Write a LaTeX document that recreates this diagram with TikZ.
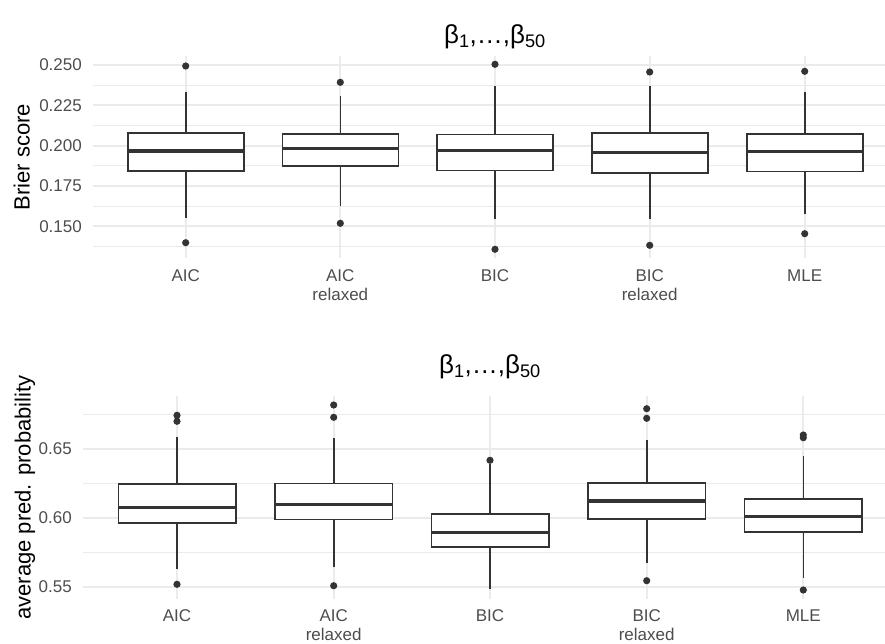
\documentclass[tikz,border=0pt]{standalone}
\usepackage{fontspec}
\setmainfont{Liberation Sans}
\definecolor{gridc}{HTML}{EBEBEB}
\definecolor{boxc}{HTML}{333333}
\definecolor{tickc}{HTML}{4D4D4D}
\begin{document}
\begin{tikzpicture}[x=1pt,y=-1pt,
  gmaj/.style={draw=gridc,line width=1.8pt},
  gmin/.style={draw=gridc,line width=0.9pt},
  bx/.style={draw=boxc,fill=white,line width=1.6pt},
  whisk/.style={draw=boxc,line width=1.6pt},
  med/.style={draw=boxc,line width=3.4pt},
  outl/.style={fill=boxc},
  ticklab/.style={font=\fontsize{17}{19}\selectfont,text=tickc,inner sep=0pt},
  xlab/.style={ticklab,anchor=north,align=center},
  axlab/.style={font=\fontsize{22}{24}\selectfont,inner sep=0pt,rotate=90},
  ttl/.style={font=\fontsize{26}{30}\selectfont,inner sep=0pt,anchor=base}]
\useasboundingbox (0,0) rectangle (885,643);

\path[gmin] (93,85.2) -- (885,85.2) (93,125.5) -- (885,125.5) (93,165.8) -- (885,165.8) (93,206.2) -- (885,206.2) (93,246.5) -- (885,246.5);
\path[gmaj] (93,65) -- (885,65) (93,105.3) -- (885,105.3) (93,145.7) -- (885,145.7) (93,186) -- (885,186) (93,226.3) -- (885,226.3);
\path[gmaj] (185.7,56) -- (185.7,258) (340.3,56) -- (340.3,258) (495,56) -- (495,258) (649.7,56) -- (649.7,258) (804.7,56) -- (804.7,258);

\path[whisk] (185.7,92.3) -- (185.7,217.7);
\path[bx] (127.7,133) rectangle (243.7,170.7);
\path[med] (127.7,151) -- (243.7,151);
\path[outl] (185.7,66) circle (3.6) (185.7,242.7) circle (3.6);
\path[whisk] (340.3,96.3) -- (340.3,205.7);
\path[bx] (282.3,133.7) rectangle (398.3,165.7);
\path[med] (282.3,148.7) -- (398.3,148.7);
\path[outl] (340.3,82.3) circle (3.6) (340.3,223.3) circle (3.6);
\path[whisk] (495,86.3) -- (495,219);
\path[bx] (437,134.3) rectangle (553,170.3);
\path[med] (437,150.3) -- (553,150.3);
\path[outl] (495,64.3) circle (3.6) (495,249.3) circle (3.6);
\path[whisk] (649.7,86.3) -- (649.7,218.7);
\path[bx] (591.7,133) rectangle (707.7,172.7);
\path[med] (591.7,152.3) -- (707.7,152.3);
\path[outl] (649.7,72) circle (3.6) (649.7,245.3) circle (3.6);
\path[whisk] (804.7,91.7) -- (804.7,213.7);
\path[bx] (746.7,133.7) rectangle (862.7,171.3);
\path[med] (746.7,151.7) -- (862.7,151.7);
\path[outl] (804.7,71.3) circle (3.6) (804.7,233.7) circle (3.6);

\node[ticklab,anchor=east] (ta250) at (82,65) {0.250};
\node[ticklab,anchor=east] (ta225) at (82,105.3) {0.225};
\node[ticklab,anchor=east] (ta200) at (82,145.7) {0.200};
\node[ticklab,anchor=east] (ta175) at (82,186) {0.175};
\node[ticklab,anchor=east] (ta150) at (82,226.3) {0.150};
\node[xlab] (xa1) at (185.7,269.6) {AIC};
\node[xlab] (xa2) at (340.3,269.6) {AIC\\relaxed};
\node[xlab] (xa3) at (495,269.6) {BIC};
\node[xlab] (xa4) at (649.7,269.6) {BIC\\relaxed};
\node[xlab] (xa5) at (804.7,269.6) {MLE};
\node[axlab] (ya) at (21.7,157) {Brier score};
\node[ttl] (ttla) at (495,43.5) {β\textsubscript{1},…,β\textsubscript{50}};

\path[gmin] (83,414.5) -- (885,414.5) (83,483.5) -- (885,483.5) (83,552.5) -- (885,552.5);
\path[gmaj] (83,449) -- (885,449) (83,518) -- (885,518) (83,587) -- (885,587);
\path[gmaj] (177,396) -- (177,599) (333.7,396) -- (333.7,599) (490,396) -- (490,599) (646.7,396) -- (646.7,599) (803.3,396) -- (803.3,599);

\path[whisk] (177,436.7) -- (177,569);
\path[bx] (118.3,484) rectangle (235.7,522.7);
\path[med] (118.3,507.7) -- (235.7,507.7);
\path[outl] (177,415.3) circle (3.6) (177,421.3) circle (3.6) (177,584.3) circle (3.6);
\path[whisk] (333.7,438.3) -- (333.7,567);
\path[bx] (275,483.3) rectangle (392.4,519.3);
\path[med] (275,504.3) -- (392.4,504.3);
\path[outl] (333.7,405) circle (3.6) (333.7,417.3) circle (3.6) (333.7,585.7) circle (3.6);
\path[whisk] (490,464) -- (490,589.3);
\path[bx] (431.3,514) rectangle (548.7,546.7);
\path[med] (431.3,532.7) -- (548.7,532.7);
\path[outl] (490,460.3) circle (3.6);
\path[whisk] (646.7,440.3) -- (646.7,563);
\path[bx] (588,483) rectangle (705.4,519);
\path[med] (588,501) -- (705.4,501);
\path[outl] (646.7,408.7) circle (3.6) (646.7,418.3) circle (3.6) (646.7,580.7) circle (3.6);
\path[whisk] (803.3,456) -- (803.3,578.3);
\path[bx] (744.6,499) rectangle (862,532);
\path[med] (744.6,516.7) -- (862,516.7);
\path[outl] (803.3,435) circle (3.6) (803.3,437.7) circle (3.6) (803.3,590) circle (3.6);

\node[ticklab,anchor=east] (tb65) at (72,449) {0.65};
\node[ticklab,anchor=east] (tb60) at (72,518) {0.60};
\node[ticklab,anchor=east] (tb55) at (72,587) {0.55};
\node[xlab] (xb1) at (177,609.6) {AIC};
\node[xlab] (xb2) at (333.7,609.6) {AIC\\relaxed};
\node[xlab] (xb3) at (490,609.6) {BIC};
\node[xlab] (xb4) at (646.7,609.6) {BIC\\relaxed};
\node[xlab] (xb5) at (803.3,609.6) {MLE};
\node[axlab] (yb) at (25,497.5) {average pred. probability};
\node[ttl] (ttlb) at (490,373.5) {β\textsubscript{1},…,β\textsubscript{50}};
\end{tikzpicture}
\end{document}
